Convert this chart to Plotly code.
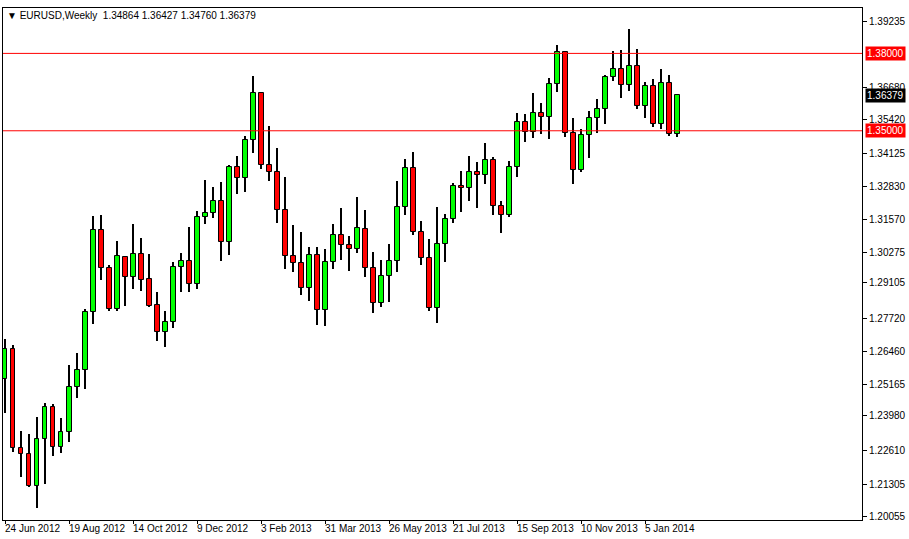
import plotly.graph_objects as go

opens = [1.2538,1.2654,1.2271,1.2247,1.2123,1.2305,1.2430,1.2274,1.2333,1.2507,
         1.2573,1.2798,1.3115,1.2968,1.2809,1.3011,1.2933,1.3023,1.2926,1.2825,
         1.2720,1.2759,1.2972,1.2995,1.2906,1.3166,1.3181,1.3228,1.3069,1.3360,
         1.3317,1.3464,1.3647,1.3367,1.3340,1.3193,1.3015,1.2988,1.2891,1.3019,
         1.2805,1.2992,1.3096,1.3057,1.3042,1.3119,1.2968,1.2833,1.2937,1.2995,
         1.3205,1.3356,1.3108,1.3007,1.2813,1.3061,1.3158,1.3286,1.3278,1.3340,
         1.3329,1.3387,1.3209,1.3174,1.3360,1.3534,1.3495,1.3569,1.3553,1.3681,
         1.3805,1.3492,1.3348,1.3484,1.3550,1.3585,1.3709,1.3740,1.3678,1.3751,
         1.3596,1.3674,1.3526,1.3685,1.34864]
highs = [1.2693,1.2670,1.2336,1.2325,1.2391,1.2445,1.2441,1.2387,1.2592,1.2639,
         1.2809,1.3170,1.3174,1.2980,1.3073,1.3015,1.3139,1.3085,1.3023,1.2875,
         1.2802,1.2992,1.3026,1.3127,1.3189,1.3309,1.3282,1.3302,1.3367,1.3402,
         1.3480,1.3712,1.3650,1.3519,1.3433,1.3321,1.3135,1.3108,1.3050,1.3050,
         1.3042,1.3139,1.3201,1.3092,1.3243,1.3193,1.3030,1.2999,1.3061,1.3305,
         1.3391,1.3418,1.3150,1.3081,1.3205,1.3178,1.3298,1.3344,1.3402,1.3379,
         1.3453,1.3398,1.3228,1.3383,1.3569,1.3565,1.3647,1.3608,1.3705,1.3833,
         1.3809,1.3550,1.3507,1.3577,1.3623,1.3716,1.3809,1.3813,1.3895,1.3817,
         1.3689,1.3701,1.3740,1.3716,1.36427]
lows = [1.2406,1.2255,1.2158,1.2119,1.2038,1.2131,1.2240,1.2251,1.2294,1.2464,
        1.2499,1.2751,1.2922,1.2802,1.2802,1.2821,1.2887,1.2879,1.2817,1.2685,
        1.2662,1.2736,1.2875,1.2875,1.2887,1.3139,1.3162,1.2995,1.3019,1.3255,
        1.3263,1.3414,1.3352,1.3305,1.3143,1.2964,1.2953,1.2864,1.2840,1.2747,
        1.2743,1.2964,1.2999,1.2957,1.3026,1.2933,1.2794,1.2817,1.2836,1.2953,
        1.3174,1.3096,1.2980,1.2802,1.2755,1.2992,1.3143,1.3185,1.3228,1.3201,
        1.3294,1.3174,1.3104,1.3166,1.3321,1.3457,1.3472,1.3488,1.3468,1.3650,
        1.3476,1.3294,1.3340,1.3395,1.3492,1.3526,1.3693,1.3627,1.3654,1.3585,
        1.3550,1.3515,1.3507,1.3480,1.34760]
closes = [1.2654,1.2271,1.2247,1.2123,1.2305,1.2430,1.2274,1.2333,1.2507,1.2573,
          1.2798,1.3115,1.2968,1.2809,1.3015,1.2933,1.3023,1.2922,1.2821,1.2720,
          1.2759,1.2972,1.2995,1.2906,1.3166,1.3181,1.3228,1.3069,1.3360,1.3317,
          1.3464,1.3647,1.3367,1.3340,1.3193,1.3015,1.2988,1.2891,1.3019,1.2805,
          1.2992,1.3096,1.3057,1.3042,1.3123,1.2968,1.2833,1.2937,1.2995,1.3205,
          1.3356,1.3108,1.3007,1.2813,1.3061,1.3158,1.3286,1.3278,1.3340,1.3329,
          1.3387,1.3209,1.3174,1.3360,1.3534,1.3495,1.3569,1.3553,1.3681,1.3805,
          1.3492,1.3348,1.3484,1.3550,1.3585,1.3709,1.3740,1.3678,1.3751,1.3596,
          1.3674,1.3526,1.3685,1.3488,1.36379]

date_labels = ["24 Jun 2012","19 Aug 2012","14 Oct 2012","9 Dec 2012","3 Feb 2013",
               "31 Mar 2013","26 May 2013","21 Jul 2013","15 Sep 2013","10 Nov 2013","5 Jan 2014"]
date_idx = [0,8,16,24,32,40,48,56,64,72,80]
price_ticks = [1.39235,1.36680,1.35420,1.34125,1.32830,1.31570,1.30275,1.29105,
               1.27720,1.26460,1.25165,1.23980,1.22610,1.21305,1.20055]
levels = [1.38000,1.35000]
title_text = "EURUSD,Weekly  1.34864 1.36427 1.34760 1.36379"

n = len(opens)
xs = list(range(n))
FONT = "Liberation Sans, Arial, sans-serif"
XR = [-0.25, 107.1]

fig = go.Figure()
fig.add_trace(go.Bar(x=xs, y=[h - l for h, l in zip(highs, lows)], base=lows,
                     width=0.13, marker=dict(color="black", line=dict(width=0)),
                     hoverinfo="skip", showlegend=False))
bases = [min(o, c) for o, c in zip(opens, closes)]
heights = [max(abs(c - o), 0.00015) for o, c in zip(opens, closes)]
colors = ["#00FF00" if c >= o else "#FF0000" for o, c in zip(opens, closes)]
fig.add_trace(go.Bar(x=xs, y=heights, base=bases, width=0.62,
                     marker=dict(color=colors, line=dict(color="black", width=1)),
                     showlegend=False))

for lv in levels:
    fig.add_shape(type="line", xref="paper", x0=0, x1=1, yref="y", y0=lv, y1=lv,
                  line=dict(color="#FF0000", width=1))
    fig.add_annotation(xref="paper", x=1.004, y=lv, yref="y", text=f"{lv:.5f}",
                       showarrow=False, xanchor="left", bgcolor="#FF0000",
                       font=dict(color="white", size=10, family=FONT), borderpad=1)
fig.add_annotation(xref="paper", x=1.004, y=closes[-1], yref="y", text=f"{closes[-1]:.5f}",
                   showarrow=False, xanchor="left", bgcolor="black",
                   font=dict(color="white", size=10, family=FONT), borderpad=1)

for i, lab in zip(date_idx, date_labels):
    px = (i - 0.3 - XR[0]) / (XR[1] - XR[0])
    fig.add_annotation(x=max(px, 0.0), xref="paper", y=0, yref="paper", yanchor="top", yshift=-1,
                       text=lab, showarrow=False, xanchor="left",
                       font=dict(size=10, family=FONT, color="black"))

fig.add_annotation(xref="paper", yref="paper", x=0.002, y=1.0, xanchor="left", yanchor="top",
                   text="▼ " + title_text, showarrow=False,
                   font=dict(size=10, family=FONT, color="black"))

fig.update_layout(
    width=909, height=539, margin=dict(l=3, r=47, t=8, b=19, autoexpand=False),
    paper_bgcolor="white", plot_bgcolor="white", bargap=0, barmode="overlay",
    xaxis=dict(range=XR, showgrid=False, zeroline=False, showline=True,
               linecolor="black", mirror=True, tickvals=date_idx, ticktext=[""] * len(date_idx),
               ticks="outside", ticklen=3, tickcolor="black"),
    yaxis=dict(range=[1.1991, 1.3976], side="right", showgrid=False, zeroline=False,
               showline=True, linecolor="black", mirror=True, tickvals=price_ticks,
               ticktext=[f"{v:.5f}" for v in price_ticks], ticks="outside", ticklen=4,
               tickcolor="black", tickfont=dict(size=10, family=FONT, color="black")),
)
fig.write_html("out.html", config={"displayModeBar": False},
               post_script="document.body.style.margin='0';document.body.style.overflow='hidden';")
